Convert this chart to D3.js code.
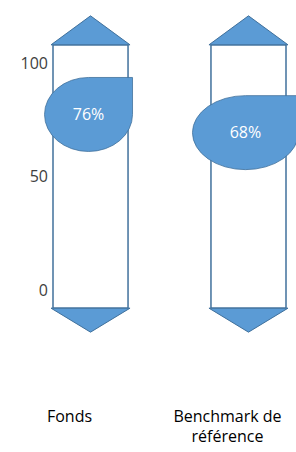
<!DOCTYPE html>
<html>
<head>
<meta charset="utf-8">
<script src="https://cdn.jsdelivr.net/npm/d3@7"></script>
<style>
  body { margin: 0; background: #fff; }
  svg { display: block; font-family: "Open Sans", "Liberation Sans", sans-serif; }
</style>
</head>
<body>
<svg width="296" height="452"></svg>
<script>
// data
const categories = ['Fonds', 'Benchmark de référence'];
const values = [76, 68];
const tickValues = [0, 50, 100];

const svg = d3.select('svg');

// y runs from 0 at the bottom to 100 at the top, frame goes a bit past both ends
const yScale = d3.scaleLinear().domain([0, 100]).range([290, 63]);
const frameTop = 108, frameBottom = -8;

const xScale = d3.scaleBand().domain(categories).range([53, 286]).paddingInner(0.525).paddingOuter(0);
const colW = xScale.bandwidth();

const blue = '#5b9bd5';
const edge = '#41719c';

// tick labels
svg.append('g')
  .selectAll('text')
  .data(tickValues)
  .enter()
  .append('text')
  .attr('x', 48)
  .attr('y', d => yScale(d))
  .attr('text-anchor', 'end')
  .attr('dy', '0.35em')
  .attr('fill', '#404040')
  .style('font-size', '16px')
  .text(d => d);

const cols = svg.selectAll('.col')
  .data(categories.map((c, i) => ({ cat: c, value: values[i], i: i })))
  .enter()
  .append('g')
  .classed('col', true)
  .attr('transform', d => `translate(${xScale(d.cat)},0)`);

// frame
cols.append('rect')
  .attr('x', 0)
  .attr('y', yScale(frameTop))
  .attr('width', colW)
  .attr('height', yScale(frameBottom) - yScale(frameTop))
  .attr('fill', '#fff')
  .attr('stroke', edge)
  .attr('stroke-width', 1.5);

// arrows
const overhang = 2;
cols.append('path')
  .attr('d', () => {
    const yb = yScale(frameTop);
    return `M${-overhang},${yb} L${colW / 2},${yb - 29} L${colW + overhang},${yb} Z`;
  })
  .attr('fill', blue)
  .attr('stroke', edge)
  .attr('stroke-width', 1);

cols.append('path')
  .attr('d', () => {
    const yb = yScale(frameBottom);
    return `M${-overhang},${yb} L${colW / 2},${yb + 24} L${colW + overhang},${yb} Z`;
  })
  .attr('fill', blue)
  .attr('stroke', edge)
  .attr('stroke-width', 1);

// teardrop bubble at the value (the second one is drawn a bit wider)
const ry = 37;
const bubbleRx = [44, 53];
const bubbleDx = [-2, -3];
function drop(cx, cy, rx) {
  return `M${cx + rx},${cy} L${cx + rx},${cy - ry} L${cx},${cy - ry}` +
    ` A${rx},${ry} 0 0 0 ${cx - rx},${cy}` +
    ` A${rx},${ry} 0 0 0 ${cx},${cy + ry}` +
    ` A${rx},${ry} 0 0 0 ${cx + rx},${cy} Z`;
}

cols.append('path')
  .attr('d', d => drop(colW / 2 + bubbleDx[d.i], yScale(d.value) - 3, bubbleRx[d.i]))
  .attr('fill', blue)
  .attr('stroke', edge)
  .attr('stroke-width', 0.8);

cols.append('text')
  .attr('x', d => colW / 2 + bubbleDx[d.i])
  .attr('y', d => yScale(d.value) - 3)
  .attr('dy', '0.35em')
  .attr('text-anchor', 'middle')
  .attr('fill', '#fff')
  .style('font-size', '16px')
  .text(d => d.value + '%');

// category labels, sitting a bit left of the columns
const labelX = d => xScale(d) + colW / 2 - 21;
const labels = svg.append('g')
  .selectAll('text')
  .data(categories)
  .enter()
  .append('text')
  .attr('x', labelX)
  .attr('y', 416)
  .attr('text-anchor', 'middle')
  .attr('fill', '#000')
  .style('font-size', '16px');

labels.each(function (d) {
  const words = d === 'Benchmark de référence' ? ['Benchmark de', 'référence'] : [d];
  d3.select(this).selectAll('tspan')
    .data(words)
    .enter()
    .append('tspan')
    .attr('x', labelX(d))
    .attr('dy', (w, i) => i === 0 ? '0.35em' : '1.3em')
    .text(w => w);
});
</script>
</body>
</html>
